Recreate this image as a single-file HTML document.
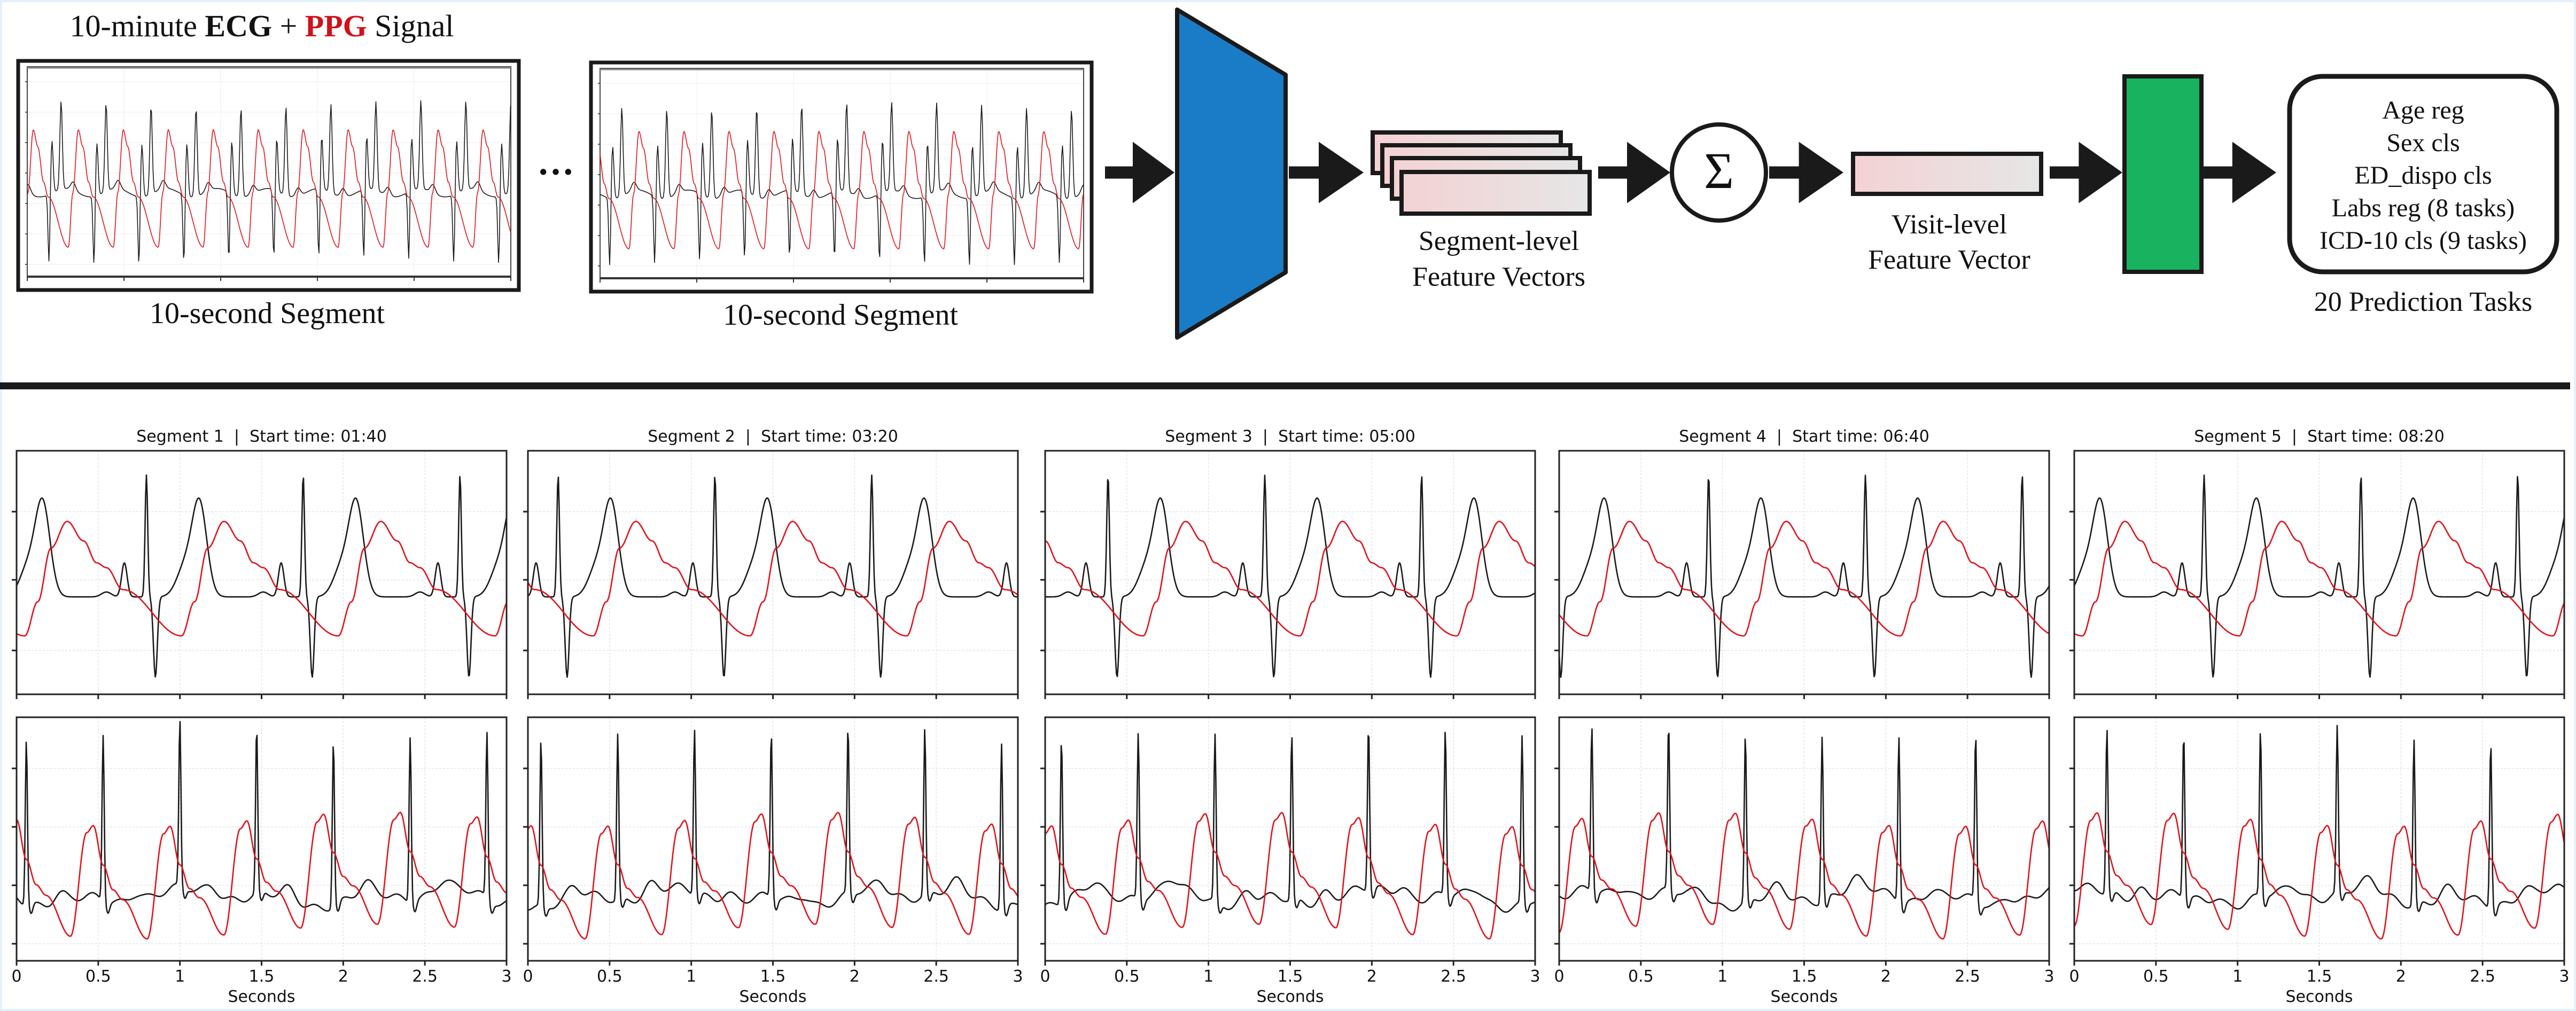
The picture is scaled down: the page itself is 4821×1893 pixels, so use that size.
<!DOCTYPE html>
<html><head><meta charset="utf-8">
<style>
html,body{margin:0;padding:0;background:#fff;}
svg{display:block;}
.ser{font-family:"Liberation Serif","DejaVu Serif",serif;}
.san{font-family:"DejaVu Sans","Liberation Sans",sans-serif;}
</style></head>
<body>
<svg id="s" width="4821" height="1893" viewBox="0 0 4821 1893" xmlns="http://www.w3.org/2000/svg">
<rect x="0" y="0" width="4821" height="1893" fill="#fff" stroke="#e3f1fb" stroke-width="8"/>
<defs>
<linearGradient id="pg" x1="0" x2="1" y1="0" y2="0"><stop offset="0" stop-color="#f4d2d4"/><stop offset="1" stop-color="#e6e6e6"/></linearGradient>
</defs>
<text class="ser" x="490" y="68" font-size="58" text-anchor="middle" fill="#111">10-minute <tspan font-weight="bold">ECG</tspan> + <tspan font-weight="bold" fill="#d0121b">PPG</tspan> Signal</text>
<g id="segs"></g>
<text x="1040" y="345" font-size="70" text-anchor="middle" font-weight="bold" fill="#111" class="ser">···</text>
<text class="ser" x="500" y="605" font-size="56" text-anchor="middle" fill="#111">10-second Segment</text>
<text class="ser" x="1573" y="608" font-size="56" text-anchor="middle" fill="#111">10-second Segment</text>
<g fill="#1a1a1a">
<path d="M0,-10 H40 V-50 L100,0 L40,50 V10 H0 Z" transform="translate(2068,323) scale(1.3,1.15)"/>
<path d="M0,-10 H40 V-50 L100,0 L40,50 V10 H0 Z" transform="translate(2412,323) scale(1.4,1.15)"/>
<path d="M0,-10 H40 V-50 L100,0 L40,50 V10 H0 Z" transform="translate(2991,323) scale(1.35,1.15)"/>
<path d="M0,-10 H40 V-50 L100,0 L40,50 V10 H0 Z" transform="translate(3311,323) scale(1.39,1.15)"/>
<path d="M0,-10 H40 V-50 L100,0 L40,50 V10 H0 Z" transform="translate(3836,323) scale(1.36,1.15)"/>
<path d="M0,-10 H40 V-50 L100,0 L40,50 V10 H0 Z" transform="translate(4123,323) scale(1.37,1.15)"/>
</g>
<polygon points="2203,18 2406,140 2406,510 2203,632" fill="#1a7bc6" stroke="#1a1a1a" stroke-width="8" stroke-linejoin="round"/>
<g stroke="#1a1a1a" stroke-width="8" fill="url(#pg)">
<rect x="2569" y="248" width="352" height="76"/>
<rect x="2587" y="272" width="352" height="76"/>
<rect x="2605" y="296" width="352" height="76"/>
<rect x="2623" y="322" width="352" height="78"/>
</g>
<text class="ser" x="2805" y="468" font-size="52" text-anchor="middle" fill="#111">Segment-level</text>
<text class="ser" x="2805" y="535" font-size="52" text-anchor="middle" fill="#111">Feature Vectors</text>
<ellipse cx="3217" cy="323" rx="88" ry="90" fill="#fff" stroke="#1a1a1a" stroke-width="8"/>
<text class="ser" x="3217" y="352" font-size="96" text-anchor="middle" fill="#111">Σ</text>
<rect x="3468" y="288" width="352" height="75" fill="url(#pg)" stroke="#1a1a1a" stroke-width="8"/>
<text class="ser" x="3648" y="437" font-size="52" text-anchor="middle" fill="#111">Visit-level</text>
<text class="ser" x="3648" y="503" font-size="52" text-anchor="middle" fill="#111">Feature Vector</text>
<rect x="3976" y="143" width="144" height="366" fill="#19b35f" stroke="#1a1a1a" stroke-width="8"/>
<rect x="4285" y="143" width="500" height="366" rx="62" fill="#fff" stroke="#1a1a1a" stroke-width="9"/>
<g class="ser" font-size="48" text-anchor="middle" fill="#111">
<text x="4535" y="222">Age reg</text>
<text x="4535" y="283">Sex cls</text>
<text x="4535" y="344">ED_dispo cls</text>
<text x="4535" y="405">Labs reg (8 tasks)</text>
<text x="4535" y="466">ICD-10 cls (9 tasks)</text>
<text x="4535" y="582" font-size="52">20 Prediction Tasks</text>
</g>
<rect x="0" y="716" width="4810" height="13" fill="#1a1a1a"/>
<g id="panels"></g>
</svg>
<script>
var NS="http://www.w3.org/2000/svg";
function el(p,t,a){var e=document.createElementNS(NS,t);for(var k in a)e.setAttribute(k,a[k]);p.appendChild(e);return e;}
function g(t,m,s){var d=(t-m)/s;return Math.exp(-d*d/2);}
function interp(pts,ph){for(var i=0;i<pts.length-1;i++){if(ph>=pts[i][0]&&ph<=pts[i+1][0]){var f=(ph-pts[i][0])/(pts[i+1][0]-pts[i][0]);f=(1-Math.cos(Math.PI*f))/2;return pts[i][1]+(pts[i+1][1]-pts[i][1])*f;}}return pts[pts.length-1][1];}
function poly(p,x0,w,y0,h,fn,col,sw){var d="";for(var px=0;px<=w;px+=1.5){var t=px/w;var y=fn(t);d+=(px?"L":"M")+(x0+px).toFixed(1)+","+(y0+y*h).toFixed(1);}el(p,"path",{d:d,fill:"none",stroke:col,"stroke-width":sw,"stroke-linejoin":"round"});}
var segs=document.getElementById("segs");
[[31,111],[1103,114]].forEach(function(b,bi){
 var x=b[0],y=b[1];
 el(segs,"rect",{x:x+3,y:y+3,width:937,height:429,fill:"#fff",stroke:"#1a1a1a","stroke-width":7});
 var ix=x+20,iy=y+14,iw=905,ih=393;
 for(var k=0;k<6;k++){var tx=ix+k*iw/5;el(segs,"line",{x1:tx,x2:tx,y1:iy,y2:iy+ih,stroke:"#eee","stroke-width":1});el(segs,"line",{x1:tx,x2:tx,y1:iy+ih,y2:iy+ih+8,stroke:"#333","stroke-width":2});}
 for(var k=0;k<7;k++){var ty=iy+28+k*57;el(segs,"line",{x1:ix,x2:ix+iw,y1:ty,y2:ty,stroke:"#eee","stroke-width":1});el(segs,"line",{x1:ix-4,x2:ix,y1:ty,y2:ty,stroke:"#555","stroke-width":2});}
 el(segs,"rect",{x:ix,y:iy,width:iw,height:ih,fill:"none",stroke:"#444","stroke-width":2});
 el(segs,"line",{x1:ix,x2:ix+iw,y1:iy+2,y2:iy+2,stroke:"#888","stroke-width":3});
 el(segs,"line",{x1:ix,x2:ix+iw,y1:iy+ih,y2:iy+ih,stroke:"#333","stroke-width":4});
 var P=0.093,off=bi?0.02:0.045;
 poly(segs,ix,iw,iy,ih,function(t){var v=0.6+0.02*Math.sin(t*60);for(var k=-1;k<13;k++){var ph=t-(off+k*P);v+=0.33*g(ph,0.0,0.002)-0.25*g(ph,0.006,0.0025)-0.42*g(ph,0.025,0.0025)-0.04*g(ph,0.05,0.005);}return v;},"#1a1a1a",1.6);
 poly(segs,ix,iw,iy,ih,function(t){var ph=((t-off-0.04)%P+P)%P/P;return interp([[0,0.86],[0.1,0.6],[0.22,0.3],[0.32,0.38],[0.45,0.55],[0.55,0.62],[1,0.86]],ph);},"#e0141c",1.6);
});
var pan=document.getElementById("panels");
var X=[31,988,1956,2918,3882],W=917;
var names=["01:40","03:20","05:00","06:40","08:20"];
var offT=[0.0,0.35,0.55,0.12,0.0],offB=[0.06,0.08,0.1,0.2,0.2];
for(var i=0;i<5;i++){
 var x=X[i];
 el(pan,"text",{x:x+W/2,y:827,"font-size":30,"text-anchor":"middle",fill:"#111",class:"san","xml:space":"preserve"}).textContent="Segment "+(i+1)+"\u00a0\u00a0|\u00a0\u00a0Start time: "+names[i];
 [[844,456,0],[1343,456,1]].forEach(function(r){
  var y=r[0],h=r[1],row=r[2];
  el(pan,"rect",{x:x,y:y,width:W,height:h,fill:"#fff"});
  for(var k=1;k<6;k++){var tx=x+k*W/6;el(pan,"line",{x1:tx,x2:tx,y1:y,y2:y+h,stroke:"#e4e4e4","stroke-width":1.5,"stroke-dasharray":"4,3"});}
  for(var k=0;k<7;k++){var tx=x+k*W/6;el(pan,"line",{x1:tx,x2:tx,y1:y+h,y2:y+h+9,stroke:"#222","stroke-width":3});}
  var ys=row?[0.21,0.45,0.69,0.93]:[0.25,0.53,0.82];
  ys.forEach(function(f){el(pan,"line",{x1:x,x2:x+W,y1:y+f*h,y2:y+f*h,stroke:"#e4e4e4","stroke-width":1.5,"stroke-dasharray":"4,3"});el(pan,"line",{x1:x-9,x2:x,y1:y+f*h,y2:y+f*h,stroke:"#222","stroke-width":3});});
  if(row==0){
   var P=0.96,o=offT[i]-P;
   poly(pan,x,W,y,h,function(t){t*=3;var v=0.6;for(var k=0;k<6;k++){var ph=t-(o+k*P);v+=-0.38*g(ph,0.16,0.045)-0.12*g(ph,0.07,0.05)-0.14*g(ph,0.66,0.017)-0.02*g(ph,0.55,0.03)-0.5*g(ph,0.795,0.008)+0.33*g(ph,0.85,0.012);}return v;},"#1a1a1a",2.6);
   poly(pan,x,W,y,h,function(t){t*=3;var ph=(((t-o-0.05)%P)+P)%P;return interp([[0,0.76],[0.08,0.62],[0.16,0.4],[0.26,0.29],[0.36,0.37],[0.44,0.46],[0.5,0.48],[0.6,0.57],[0.96,0.76]],ph);},"#e0141c",2.6);
  }else{
   var P=0.47,o=offB[i]-P;
   poly(pan,x,W,y,h,function(t){t*=3;var v=0.74+0.025*Math.sin(t*11+i)+0.015*Math.sin(t*37+i*2)+0.02*Math.sin(t*4.3+i);for(var k=0;k<9;k++){var ph=t-(o+k*P);v+=-0.68*g(ph,0,0.0065)+0.04*g(ph,0.03,0.01)-0.04*g(ph,0.2,0.04);}return v;},"#1a1a1a",2.6);
   poly(pan,x,W,y,h,function(t){t*=3;var ph=(((t-o-0.27)%P)+P)%P;var a=0.03*Math.sin(t*2.1+i);return a+interp([[0,0.88],[0.1,0.45],[0.14,0.42],[0.2,0.58],[0.26,0.68],[0.32,0.72],[0.47,0.88]],ph);},"#e0141c",2.6);
  }
  el(pan,"rect",{x:x,y:y,width:W,height:h,fill:"none",stroke:"#222","stroke-width":3});
 });
 for(var k=0;k<7;k++){el(pan,"text",{x:x+k*W/6,y:1838,"font-size":30,"text-anchor":"middle",fill:"#111",class:"san"}).textContent=["0","0.5","1","1.5","2","2.5","3"][k];}
 el(pan,"text",{x:x+W/2,y:1876,"font-size":30,"text-anchor":"middle",fill:"#111",class:"san"}).textContent="Seconds";
}
</script>
</body></html>
